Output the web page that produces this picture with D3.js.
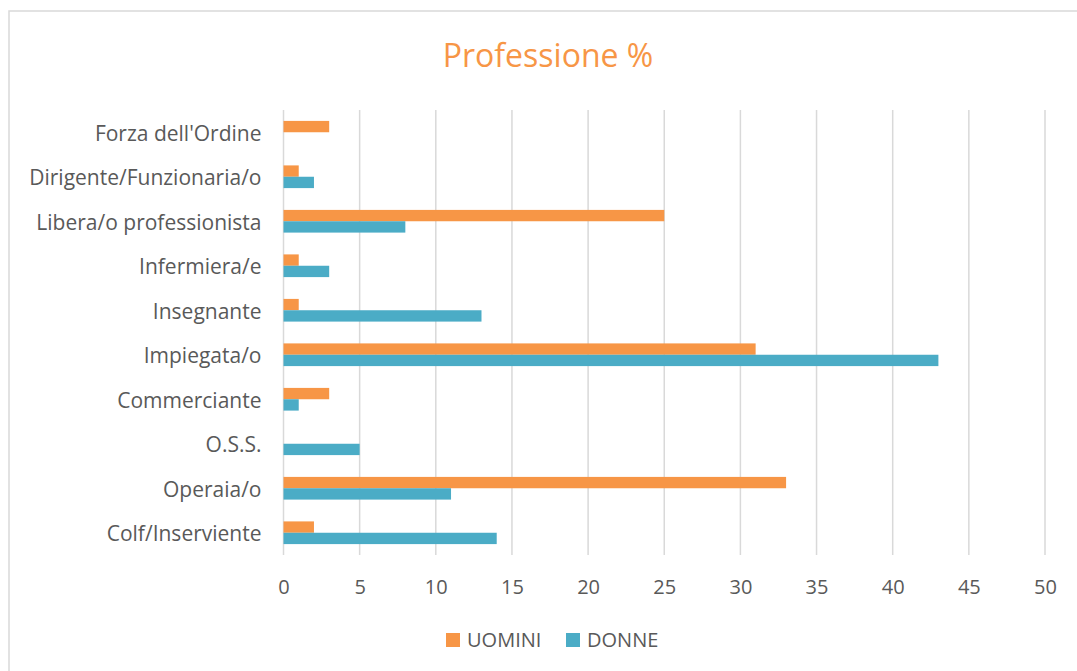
<!DOCTYPE html>
<html>
<head>
<meta charset="utf-8">
<script src="https://d3js.org/d3.v7.min.js"></script>
<style>
  body { margin: 0; background: #fff; }
  #chart { width: 1077px; height: 671px; }
  text { font-family: "Open Sans", sans-serif; fill: #595959; }
</style>
</head>
<body>
<div id="chart"></div>
<script>
// categories, top to bottom
const categories = ["Forza dell'Ordine", "Dirigente/Funzionaria/o", "Libera/o professionista",
  "Infermiera/e", "Insegnante", "Impiegata/o", "Commerciante", "O.S.S.", "Operaia/o", "Colf/Inserviente"];
const uomini = [3, 1, 25, 1, 1, 31, 3, 0, 33, 2];
const donne = [0, 2, 8, 3, 13, 43, 1, 5, 11, 14];
const seriesNames = ["UOMINI", "DONNE"];
const seriesColors = ["#F79646", "#4BACC6"];
const xTicks = [0, 5, 10, 15, 20, 25, 30, 35, 40, 45, 50];

const W = 1077, H = 671;
const margin = {top: 110, right: 32, bottom: 116, left: 283.5};
const width = W - margin.left - margin.right;
const height = H - margin.top - margin.bottom;

const svg = d3.select("#chart").append("svg")
  .attr("width", W).attr("height", H);

// outer frame (cropped at right/bottom)
svg.append("rect")
  .attr("x", 9).attr("y", 11).attr("width", W).attr("height", H)
  .attr("fill", "none").attr("stroke", "#d9d9d9").attr("stroke-width", 1.5);

svg.append("text")
  .attr("x", 548).attr("y", 67)
  .attr("text-anchor", "middle")
  .style("font-size", "32px").style("fill", "#F79646")
  .text("Professione %");

const g = svg.append("g").attr("transform", `translate(${margin.left},${margin.top})`);

const x = d3.scaleLinear().domain([0, 50]).range([0, width]);
const y = d3.scaleBand().domain(categories).range([0, height]).paddingInner(0.49).paddingOuter(0.245);
const ySub = d3.scaleBand().domain(seriesNames).range([0, y.bandwidth()]);

// gridlines
g.append("g").selectAll("line").data(xTicks).enter().append("line")
  .attr("x1", d => x(d)).attr("x2", d => x(d))
  .attr("y1", 0).attr("y2", height)
  .attr("stroke", "#d9d9d9").attr("stroke-width", 1.5);

// x axis labels
const xAxis = g.append("g").attr("transform", `translate(0,${height})`)
  .call(d3.axisBottom(x).tickValues(xTicks).tickSize(0).tickPadding(25));
xAxis.select(".domain").remove();
xAxis.selectAll("text").style("font-size", "20px").style("fill", "#595959")
  .style("font-family", "'Open Sans', sans-serif");

// y axis labels
const yAxis = g.append("g")
  .call(d3.axisLeft(y).tickSize(0).tickPadding(22));
yAxis.select(".domain").remove();
yAxis.selectAll("text").attr("dy", "0.4em").style("font-size", "21px").style("fill", "#595959")
  .style("font-family", "'Open Sans', sans-serif");

// bars
const rows = categories.map((c, i) => ({cat: c, vals: [uomini[i], donne[i]]}));
const grp = g.append("g").selectAll("g").data(rows).enter().append("g")
  .attr("transform", d => `translate(0,${y(d.cat)})`);
grp.selectAll("rect").data(d => d.vals.map((v, j) => ({name: seriesNames[j], v, j})))
  .enter().append("rect")
  .attr("x", x(0))
  .attr("y", d => ySub(d.name))
  .attr("width", d => x(d.v) - x(0))
  .attr("height", ySub.bandwidth())
  .attr("fill", d => seriesColors[d.j]);

// legend
const legend = svg.append("g").attr("transform", "translate(446,633)");
const items = [{name: "UOMINI", x: 0}, {name: "DONNE", x: 120}];
items.forEach((it, i) => {
  legend.append("rect").attr("x", it.x).attr("y", 0).attr("width", 14).attr("height", 14)
    .attr("fill", seriesColors[i]);
  legend.append("text").attr("x", it.x + 21).attr("y", 7).attr("dy", "0.35em")
    .style("font-size", "20px").text(it.name);
});
</script>
</body>
</html>
